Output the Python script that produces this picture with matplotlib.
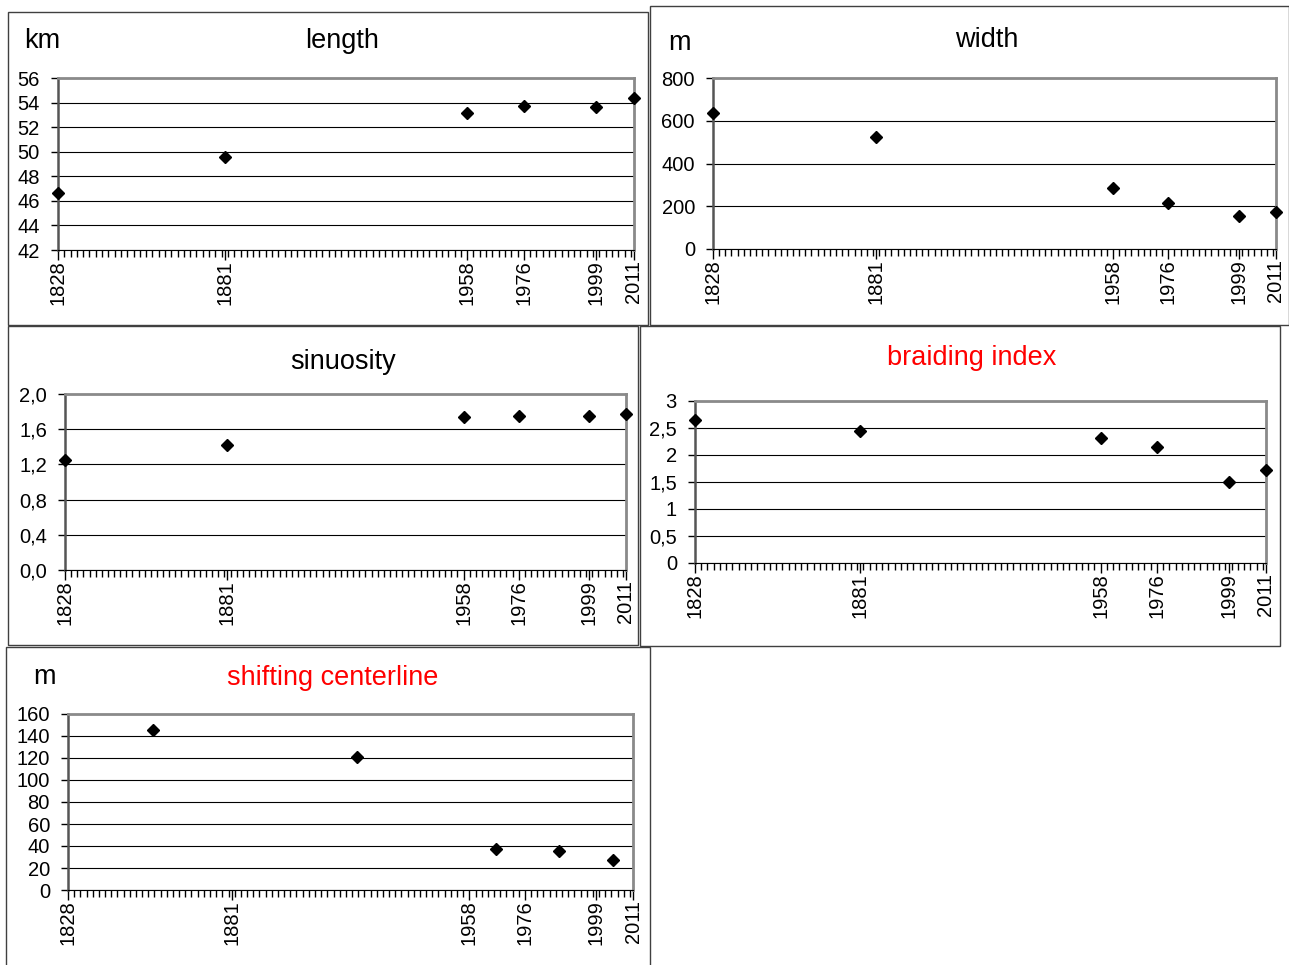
import matplotlib
matplotlib.use("Agg")
import matplotlib.pyplot as plt
import numpy as np
from matplotlib.patches import Rectangle
from matplotlib.ticker import FixedLocator, FuncFormatter

plt.rcParams['font.family'] = ['Liberation Sans', 'DejaVu Sans']

W, H = 1289, 965

years = [1828, 1881, 1958, 1976, 1999, 2011]
year_labels = ["1828", "1881", "1958", "1976", "1999", "2011"]

length_km = [46.6, 49.6, 53.15, 53.7, 53.6, 54.4]
width_m = [636, 524, 285, 215, 154, 173]
sinuosity = [1.25, 1.42, 1.74, 1.75, 1.75, 1.77]
braiding = [2.65, 2.44, 2.31, 2.15, 1.50, 1.72]

# shifting of the centerline is plotted between survey dates
shift_years = [1855.5, 1921.5, 1966.5, 1987, 2004.5]
shift_m = [145.5, 121, 37, 35.5, 27]


def px_rect(x0, y0, x1, y1):
    return [x0 / W, 1 - y1 / H, (x1 - x0) / W, (y1 - y0) / H]


def comma(dec):
    return FuncFormatter(lambda v, p: f"{v:.{dec}f}".replace(".", ","))


fig = plt.figure(figsize=(W / 100, H / 100), dpi=100)

# chart object borders
for x0, y0, x1, y1 in [(8, 12, 648, 325), (650, 6, 1289, 325), (8, 326, 638, 645),
                       (640, 326, 1280, 646), (6, 647, 650, 968)]:
    fig.patches.append(Rectangle((x0 / W, 1 - y1 / H), (x1 - x0) / W, (y1 - y0) / H,
                                 transform=fig.transFigure, fill=False,
                                 edgecolor="#404040", lw=1))


def panel(rect, xs, ys, yticks, title, unit=None, unit_xy=None, title_xy=None,
          red=False, fmt=None):
    ax = fig.add_axes(px_rect(*rect))
    ax.plot(xs, ys, "D", color="black", markersize=6.5, clip_on=False, zorder=5)
    ax.set_xlim(1828, 2011)
    ax.set_ylim(yticks[0], yticks[-1])
    ax.set_yticks(yticks)
    if fmt:
        ax.yaxis.set_major_formatter(fmt)
    ax.xaxis.set_major_locator(FixedLocator(years))
    ax.set_xticklabels(year_labels, rotation=90)
    ax.xaxis.set_minor_locator(FixedLocator(np.arange(1828, 2012, 2)))
    ax.tick_params(axis="x", which="major", length=7, width=1, pad=0.5, labelsize=14.5)
    ax.tick_params(axis="x", which="minor", length=5, width=1)
    ax.tick_params(axis="y", length=5, width=1, pad=8, labelsize=14.5)
    ax.grid(axis="y", color="black", lw=0.8)
    for s in ("top", "right"):
        ax.spines[s].set_color("#8a8a8a")
        ax.spines[s].set_linewidth(2)
    ax.spines["left"].set_color("#555555")
    ax.spines["left"].set_linewidth(1.8)
    ax.spines["bottom"].set_color("black")
    ax.set_axisbelow(True)
    fig.text(title_xy[0] / W, 1 - title_xy[1] / H, title, fontsize=19.5,
             color="red" if red else "black", ha="center", va="center")
    if unit:
        fig.text(unit_xy[0] / W, 1 - unit_xy[1] / H, unit, fontsize=19.5,
                 ha="center", va="center")
    return ax


panel((58, 78, 634, 250), years, length_km, list(range(42, 57, 2)), "length",
      unit="km", unit_xy=(42, 41), title_xy=(342, 41))
panel((713, 78, 1276, 249), years, width_m, [0, 200, 400, 600, 800], "width",
      unit="m", unit_xy=(679, 43), title_xy=(987, 40))
panel((65, 394, 626, 570), years, sinuosity, [0, 0.4, 0.8, 1.2, 1.6, 2.0], "sinuosity",
      title_xy=(343, 362), fmt=comma(1))
panel((695, 401, 1266, 563), years, braiding, [0, 0.5, 1, 1.5, 2, 2.5, 3], "braiding index",
      title_xy=(972, 358), red=True,
      fmt=FuncFormatter(lambda v, p: (f"{v:g}").replace(".", ",")))
panel((68, 714, 633, 890), shift_years, shift_m, list(range(0, 161, 20)), "shifting centerline",
      unit="m", unit_xy=(44, 677), title_xy=(333, 678), red=True)

fig.savefig("out.png", dpi=100)
